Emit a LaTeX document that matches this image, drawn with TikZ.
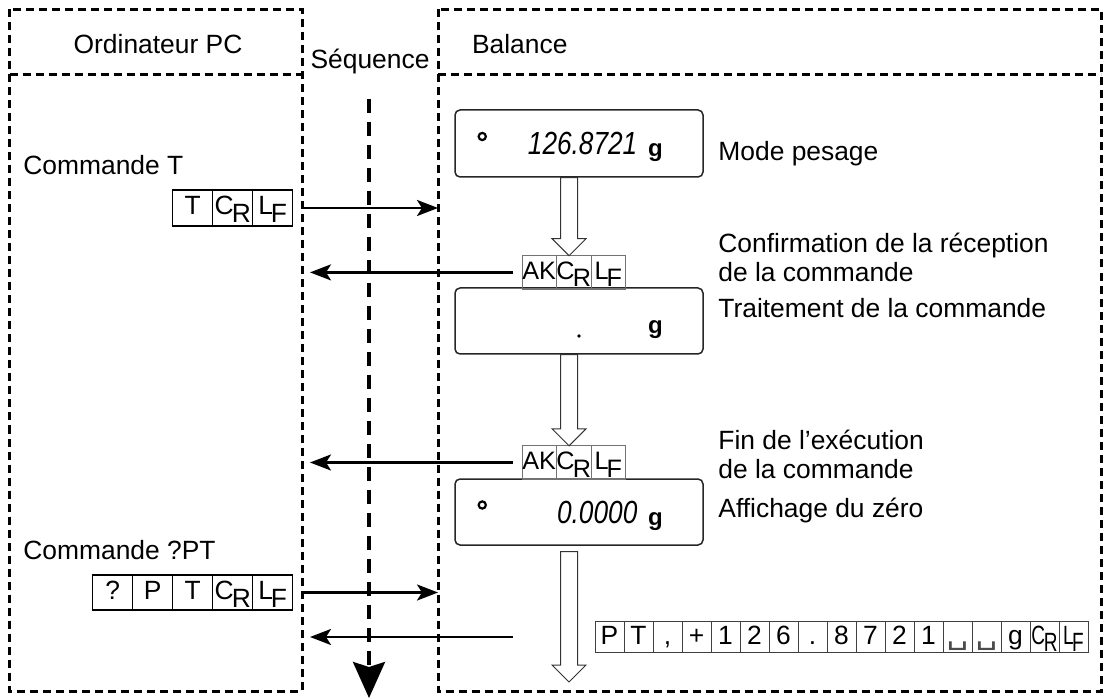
\documentclass[tikz,border=0pt]{standalone}
\usepackage{fontspec}
\usepackage{graphicx}
\setmainfont{Liberation Sans}
\newfontfamily\symfont{DejaVu Sans}
\usetikzlibrary{arrows.meta, calc, positioning}

\newcommand\crsym{C\kern-.07em\raisebox{-.3em}{R}}
\newcommand\lfsym{L\kern-.08em\raisebox{-.3em}{F}}
\newcommand\crsq{\scalebox{.72}[1]{\crsym}}
\newcommand\lfsq{\scalebox{.72}[1]{\lfsym}}
\newcommand\vs{{\symfont\color{black!70}\scalebox{1.3}[1]{␣}}}

\begin{document}
\begin{tikzpicture}[x=0.5pt, y=-0.5pt, font=\fontsize{13.2}{14.5}\selectfont,
  >={Stealth[length=10.5pt, width=8pt, inset=2.5pt]}]
\tikzset{
  frame/.style={line width=1.5pt, dash pattern=on 4pt off 2.5pt},
  seqline/.style={line width=1.6pt, dash pattern=on 7pt off 4.5pt},
  msg/.style={->, line width=1.3pt},
  keycell/.style={draw, line width=0.65pt, outer sep=0pt, inner sep=0pt,
    minimum width=20pt, minimum height=18pt, text height=9.8pt, text depth=2.8pt,
    font=\fontsize{13.2}{14}\selectfont},
  ackcell/.style={keycell, draw=black!55, line width=0.5pt,
    minimum width=17.2pt, minimum height=16.7pt, font=\fontsize{12.6}{13}\selectfont},
  outcell/.style={keycell, draw=black!75, line width=0.5pt,
    minimum width=14.5pt, minimum height=15.3pt},
  lcd/.style={draw=black!85, line width=0.75pt, rounded corners=2.5pt,
    minimum width=124pt, minimum height=33.5pt},
  digits/.style={inner sep=0pt, font=\fontsize{16}{16}\selectfont\itshape},
  unit/.style={inner sep=0pt, font=\fontsize{12}{12}\selectfont\bfseries},
  stable/.style={line width=1.1pt},
  note/.style={inner sep=0pt, anchor=base west, align=left},
  hollow/.style={draw=black!80, line width=0.5pt, fill=white,
    to path={let \p1=(\tikztostart), \p2=(\tikztotarget) in
      (\x1-4.25pt,\y1) -- (\x1-4.25pt,\y2+8.5pt) -- (\x1-8.5pt,\y2+8.5pt)
      -- (\x1,\y2) -- (\x1+8.5pt,\y2+8.5pt) -- (\x1+4.25pt,\y2+8.5pt)
      -- (\x1+4.25pt,\y1) -- cycle}}
}
\useasboundingbox (0,0) rectangle (1106,699);

% frames
\draw[frame] (9.5,9.5) rectangle (302,691);
\draw[frame] (9.5,75) -- (302,75);
\draw[frame] (438,9.5) rectangle (1101,691);
\draw[frame] (438,75) -- (1101,75);
\coordinate (pcedge) at (302,0);
\coordinate (baledge) at (438,0);
\coordinate (flow) at (569,0);

% headings
\node[anchor=base] (pchead) at (158,54) {Ordinateur PC};
\node[anchor=base west] (balhead) at (465,54) {Balance};
\node[anchor=base] (seqlbl) at (370,69) {Séquence};

% sequence line
\coordinate (seqend) at (369,698);
\draw[seqline, -{Stealth[length=18pt, width=16pt, inset=2.5pt]}]
  ($(seqlbl.base -| seqend)+(0,30)$) -- (seqend);

% balance displays
\node[lcd] (disp1) at (579,143.5) {};
\node[lcd, minimum height=33pt] (disp2) at (579,321) {};
\node[lcd, minimum height=33pt] (disp3) at (579,512) {};

\node[digits, anchor=base east] (read1) at ($(disp1.east)+(-66,11.5)$) {\scalebox{.82}[1]{126.8721}};
\node[unit, anchor=base west] (unit1) at ($(disp1.east)+(-56,13)$) {g};
\draw[stable] ($(disp1.west)+(28,-7)$) circle[radius=1.8pt];

\fill ($(disp2.center)+(0,15)$) circle[radius=0.9pt];
\node[unit, anchor=base west] (unit2) at ($(disp2.east)+(-56,13)$) {g};

\node[digits, anchor=base east] (read3) at ($(disp3.east)+(-66,11.5)$) {\scalebox{.82}[1]{0.0000}};
\node[unit, anchor=base west] (unit3) at ($(disp3.east)+(-56,13)$) {g};
\draw[stable] ($(disp3.west)+(28,-7)$) circle[radius=1.8pt];

% notes
\node[note] (mode) at (718,161) {Mode pesage};
\node[note] (conf) at (718,282) {Confirmation de la réception\\de la commande};
\node[note] (trait) at (718,318) {Traitement de la commande};
\node[note] (fin) at (718,478) {Fin de l’exécution\\de la commande};
\node[note] (zero) at (718,517) {Affichage du zéro};
\node[note] (cmdT) at (23,175) {Commande T};
\node[note] (cmdPT) at (23,559) {Commande ?PT};

% command strings
\coordinate (t0) at (172.7,208);
\foreach \c [count=\i, remember=\i as \j (initially 0)] in {T,\crsym,\lfsym}
  \node[keycell, right=0pt of t\j] (t\i) {\c};
\coordinate (q0) at (92.7,592.5);
\foreach \c [count=\i, remember=\i as \j (initially 0)] in {?,P,T,\crsym,\lfsym}
  \node[keycell, minimum height=17.5pt, right=0pt of q\j] (q\i) {\c};
\coordinate (a0) at (522,272.4);
\foreach \c [count=\i, remember=\i as \j (initially 0)] in {AK,\crsym,\lfsym}
  \node[ackcell, right=0pt of a\j] (a\i) {\c};
\coordinate (b0) at (522,462.5);
\foreach \c [count=\i, remember=\i as \j (initially 0)] in {AK,\crsym,\lfsym}
  \node[ackcell, right=0pt of b\j] (b\i) {\c};
\coordinate (p0) at (595,637);
\foreach \c [count=\i, remember=\i as \j (initially 0)] in {P,T,{,},+,1,2,6,.,8,7,2,1,\vs,\vs,g,\crsq,\lfsq}
  \node[outcell, right=0pt of p\j] (p\i) {\c};

% hollow flow arrows
\coordinate (outtop) at (569,551.7);
\coordinate (outend) at (569,682);
\draw[hollow] (disp1.south -| flow) to (a2.north -| flow);
\draw[hollow] (disp2.south -| flow) to (b2.north -| flow);
\draw[hollow] (outtop) to (outend);

% messages
\draw[msg] ([xshift=5.5pt]t3.east) -- (t3.east -| baledge);
\draw[msg] ([xshift=-4.5pt]a1.west) -- ([xshift=4pt]a1.west -| pcedge);
\draw[msg] ([xshift=-4.5pt]b1.west) -- ([xshift=4pt]b1.west -| pcedge);
\draw[msg] ([xshift=5.5pt]q5.east) -- (q5.east -| baledge);
\draw[msg] ([xshift=-41pt]p1.west) -- ([xshift=4pt]p1.west -| pcedge);
\end{tikzpicture}
\end{document}
